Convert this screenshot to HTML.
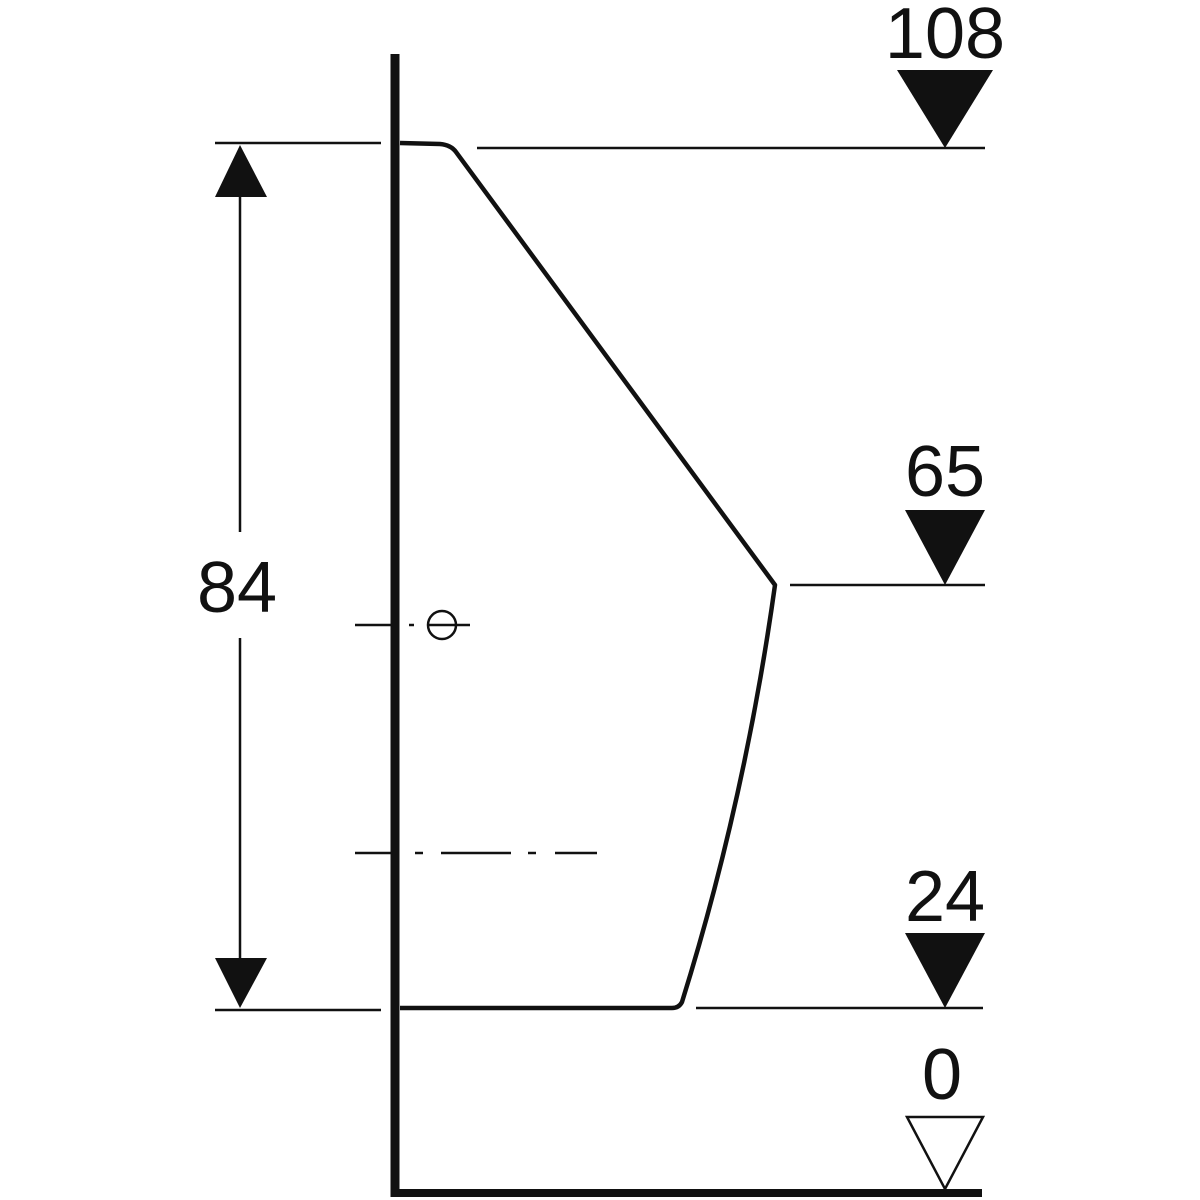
<!DOCTYPE html>
<html><head><style>body{margin:0;background:#fff}svg{display:block}</style></head><body>
<svg width="1200" height="1200" viewBox="0 0 1200 1200" xmlns="http://www.w3.org/2000/svg">
<rect width="1200" height="1200" fill="#fff"/>
<g stroke="#111" fill="none" stroke-linecap="butt">
<!-- wall and floor -->
<line x1="395" y1="54" x2="395" y2="1197" stroke-width="9"/>
<line x1="391" y1="1193" x2="982" y2="1193" stroke-width="8"/>
<!-- urinal outline -->
<path d="M400 143 L440 144 Q451 145 456 152 L775 585 Q745 800 682 1002 Q679 1008 672 1008 L400 1008" stroke-width="4.5" stroke-linejoin="round"/>
<!-- dimension lines left -->
<line x1="215" y1="143" x2="381" y2="143" stroke-width="2.5"/>
<line x1="215" y1="1010" x2="381" y2="1010" stroke-width="2.5"/>
<line x1="240" y1="195" x2="240" y2="532" stroke-width="2.5"/>
<line x1="240" y1="638" x2="240" y2="960" stroke-width="2.5"/>
<!-- right level lines -->
<line x1="477" y1="148" x2="985" y2="148" stroke-width="2.5"/>
<line x1="790" y1="585" x2="985" y2="585" stroke-width="2.5"/>
<line x1="696" y1="1008" x2="983" y2="1008" stroke-width="2.5"/>
<!-- center lines -->
<line x1="355" y1="625" x2="393" y2="625" stroke-width="2.5"/>
<line x1="409" y1="625" x2="414" y2="625" stroke-width="2.5"/>
<line x1="427" y1="625" x2="470" y2="625" stroke-width="2.5"/>
<circle cx="442" cy="625" r="14" stroke-width="2.5"/>
<line x1="355" y1="853" x2="393" y2="853" stroke-width="2.5"/>
<line x1="415" y1="853" x2="423" y2="853" stroke-width="2.5"/>
<line x1="441" y1="853" x2="511" y2="853" stroke-width="2.5"/>
<line x1="528" y1="853" x2="536" y2="853" stroke-width="2.5"/>
<line x1="555" y1="853" x2="597" y2="853" stroke-width="2.5"/>
<!-- open triangle -->
<polygon points="907,1117 983,1117 945,1189" stroke-width="2.5"/>
</g>
<g fill="#111">
<polygon points="240,145 215,197 267,197"/>
<polygon points="240,1008 215,958 267,958"/>
<polygon points="945,148 897,70 993,70"/>
<polygon points="945,585 905,510 985,510"/>
<polygon points="945,1008 905,933 985,933"/>
</g>
<g font-family="Liberation Sans, sans-serif" font-size="72" fill="#111" text-anchor="middle">
<text x="945" y="58">108</text>
<text x="945" y="496">65</text>
<text x="945" y="921">24</text>
<text x="942" y="1099">0</text>
<text x="237" y="612">84</text>
</g>
</svg>
</body></html>
